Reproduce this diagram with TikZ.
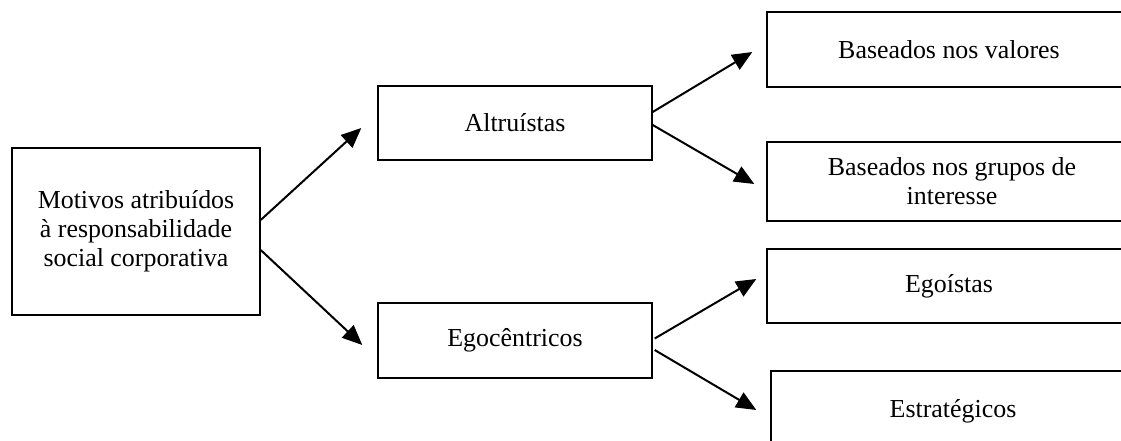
\documentclass[tikz,border=0pt]{standalone}
\usepackage{fontspec}
\setmainfont{Liberation Serif}
\usetikzlibrary{arrows.meta,calc}
\begin{document}
\begin{tikzpicture}[x=1bp,y=-1bp,
  box/.style={draw,line width=1.4bp,inner sep=0pt,align=center,font=\fontsize{26}{29}\selectfont},
  conn/.style={line width=2bp,-{Triangle[length=20bp,width=17bp]}}]
\useasboundingbox (0,0) rectangle (1121,441);
\clip (0,0) rectangle (1121,441);
\node[box,minimum width=248bp,minimum height=167bp] (main) at (136,231.5) {Motivos atribuídos\\à responsabilidade\\social corporativa};
\node[box,minimum width=274bp,minimum height=74bp] (alt) at (515,123) {Altruístas};
\node[box,minimum width=274bp,minimum height=75bp] (ego) at (515,340.5) {Egocêntricos};
\node[box,minimum width=364bp,minimum height=75bp] (bv) at (949,49.5) {Baseados nos valores};
\node[box,minimum width=370bp,minimum height=79bp] (bg) at (952,181.5) {Baseados nos grupos de\\interesse};
\node[box,minimum width=364bp,minimum height=74bp] (eg) at (949,286) {Egoístas};
\node[box,minimum width=364bp,minimum height=80bp] (es) at (953,411) {Estratégicos};
\draw[conn] ($(main.east)+(0,-11.5)$) -- ($(alt.west)+(-16,5)$);
\draw[conn] ($(main.east)+(0,18.5)$) -- ($(ego.west)+(-15,4.5)$);
\draw[conn] ($(alt.east)+(0,-11)$) -- ($(bv.west)+(-14,2.5)$);
\draw[conn] ($(alt.east)+(0,2)$) -- ($(bg.west)+(-12,2.5)$);
\draw[conn] ($(ego.east)+(2,-2)$) -- ($(eg.west)+(-10,-7)$);
\draw[conn] ($(ego.east)+(2,9.5)$) -- ($(es.west)+(-14,-1)$);
\end{tikzpicture}
\end{document}
